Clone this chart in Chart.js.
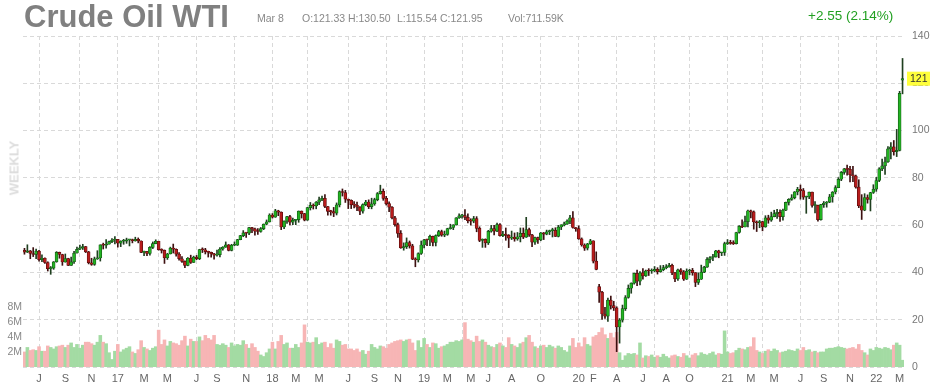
<!DOCTYPE html>
<html>
<head>
<meta charset="utf-8">
<script src="https://cdn.jsdelivr.net/npm/chart.js@4/dist/chart.umd.min.js"></script>
<style>
  html, body { margin: 0; padding: 0; background: #fff; }
  #wrap { position: relative; width: 930px; height: 387px; font-family: "Liberation Sans", Arial, sans-serif; }
  #title { position: absolute; left: 24px; top: 1px; font-size: 31px; line-height: 31px; font-weight: bold; color: #808080; white-space: nowrap; }
  .hd { position: absolute; top: 13px; font-size: 10.5px; line-height: 11px; color: #888; white-space: nowrap; }
  #chg { position: absolute; left: 808px; top: 9px; font-size: 13.5px; line-height: 13.5px; color: #22a022; white-space: nowrap; }
  #weekly { position: absolute; left: 14px; top: 168px; transform: translate(-50%, -50%) rotate(-90deg); font-size: 13px; font-weight: bold; color: #dcdcdc; white-space: nowrap; }
  canvas { position: absolute; left: 0; top: 0; }
</style>
</head>
<body>
<div id="wrap">
  <canvas id="oilChart" width="930" height="387"></canvas>
  <div id="title">Crude Oil WTI</div>
  <div class="hd" style="left:257px">Mar 8</div>
  <div class="hd" style="left:302px">O:121.33</div>
  <div class="hd" style="left:348px">H:130.50</div>
  <div class="hd" style="left:397px">L:115.54</div>
  <div class="hd" style="left:440px">C:121.95</div>
  <div class="hd" style="left:508px">Vol:711.59K</div>
  <div id="chg">+2.55 (2.14%)</div>
  <div id="weekly">WEEKLY</div>
</div>
<script>
// weekly bars, first week starts 2016-05-30
const firstWeek = '2016-05-30';

const opens = [
  49.3,48.6,49.1,48.0,47.6,49.0,45.4,46.0,44.2,41.6,41.8,44.5,48.5,47.6,44.4,45.9,43.0,44.5,48.2,49.8,50.4,50.9,48.7,44.1,43.4,45.7,46.1,51.7,51.5,51.9,53.0,
  53.7,54.0,52.4,53.2,53.2,53.8,53.9,53.4,54.0,53.3,48.5,48.8,48.0,50.6,52.2,53.2,49.6,49.3,46.2,47.8,50.3,49.8,47.7,45.8,44.7,43.0,46.0,44.2,46.5,45.8,49.7,49.6,48.8,48.5,47.9,47.3,47.5,49.9,50.7,51.7,49.3,51.5,51.5,53.9,55.6,56.7,56.6,59.0,58.4,57.4,57.3,58.5,
  60.4,61.4,64.3,63.4,66.1,65.5,59.2,61.7,63.6,61.3,62.0,62.3,65.9,64.9,62.1,67.4,68.4,68.1,69.7,70.7,71.3,67.9,65.8,65.7,65.1,68.6,74.2,73.8,71.0,70.5,68.7,68.5,67.6,65.9,68.7,69.8,67.8,69.0,70.8,73.3,74.3,71.3,69.1,67.6,63.1,60.2,56.5,50.4,50.9,52.6,51.2,45.6,45.3,
  48.0,51.6,53.8,53.7,55.3,52.7,55.6,57.3,55.8,56.1,58.5,59.0,60.1,63.1,63.9,64.0,63.3,61.9,61.7,62.8,58.6,53.5,54.0,52.5,57.4,58.5,57.5,60.2,55.6,56.2,55.7,54.5,54.9,54.2,55.1,56.5,54.9,58.1,55.9,52.8,54.7,53.8,56.7,56.2,57.2,57.7,57.8,55.2,59.2,60.1,60.4,61.7,
  63.1,59.0,58.5,54.2,51.6,50.3,52.1,53.4,44.8,34.0,31.7,22.4,21.5,28.3,26.0,25.0,16.9,19.8,24.7,29.4,33.3,35.5,39.6,36.3,39.8,38.5,40.7,40.6,40.6,41.3,40.3,41.2,42.0,42.3,43.0,39.8,37.3,41.1,40.3,37.1,40.6,40.9,39.9,35.8,37.1,40.1,42.2,45.5,46.3,46.6,49.1,48.2,
  48.5,52.2,52.4,52.3,52.2,56.9,59.5,59.2,61.5,66.1,65.6,61.4,61.0,61.5,59.3,63.1,62.1,63.6,64.9,65.4,63.6,66.3,69.6,70.9,71.6,74.1,75.2,74.6,71.8,72.1,74.0,68.3,68.4,62.3,68.7,69.3,69.7,72.0,74.0,75.9,79.4,82.3,83.8,83.6,81.3,80.8,76.1,68.2,66.3,71.7,70.9,73.8,
  75.2,78.9,83.8,85.1,86.8,92.3,93.1,91.1,91.6,121.33
];
const highs = [
  50.2,51.7,49.3,50.5,49.9,49.3,47.4,46.2,44.5,42.5,44.6,48.8,48.6,47.7,47.8,46.0,46.5,48.9,50.7,51.6,51.9,51.0,48.9,46.0,46.5,49.2,51.7,52.4,53.9,53.3,54.3,
  55.2,54.0,53.4,54.0,54.5,54.0,54.1,54.9,54.6,53.4,49.0,48.9,50.9,52.9,53.8,53.2,50.0,49.5,48.1,50.7,52.0,50.0,48.4,46.7,44.9,46.3,47.3,46.9,47.2,49.8,50.4,50.2,49.0,48.6,48.1,49.4,50.5,50.9,52.9,51.8,51.9,52.9,54.0,55.7,57.7,57.0,59.1,59.1,58.8,58.5,59.0,60.5,
  62.2,64.8,64.9,66.7,66.3,65.6,61.8,63.7,64.2,63.0,62.4,66.0,66.0,65.0,67.5,69.6,69.0,70.0,71.9,72.3,72.9,68.0,66.3,67.5,69.4,74.5,75.3,74.7,71.0,70.7,70.0,69.8,67.8,69.0,70.5,70.7,71.4,71.4,73.8,76.9,75.3,72.2,69.9,67.9,63.7,60.9,57.7,52.5,54.6,53.3,51.9,46.2,48.3,
  53.3,54.0,54.1,55.8,55.4,55.9,57.8,57.9,57.5,58.7,60.4,60.2,63.2,64.8,64.6,66.6,64.8,62.7,63.7,63.6,59.3,54.2,54.2,57.8,59.9,59.9,60.9,60.7,57.4,58.8,56.0,57.5,56.7,56.9,58.8,58.8,63.3,58.8,56.1,54.9,54.9,56.9,56.9,57.9,57.9,58.7,58.9,59.9,60.2,61.3,62.3,64.1,
  65.7,59.0,59.7,54.6,52.1,52.3,54.0,53.4,48.7,35.0,32.0,25.2,29.1,30.0,27.8,25.5,20.5,26.2,30.2,34.7,35.6,39.7,41.0,40.4,41.6,41.0,41.6,41.5,42.5,42.0,42.9,43.0,43.3,43.8,43.5,40.0,41.4,41.6,40.8,41.5,41.3,41.7,39.9,39.8,43.1,42.6,46.3,46.7,47.7,49.3,49.4,48.6,
  52.8,53.9,53.6,53.4,57.0,59.8,62.3,63.8,66.4,66.4,66.0,61.8,62.0,61.6,64.0,64.2,65.5,66.3,66.7,66.5,66.8,69.8,71.2,72.9,74.2,76.0,77.0,75.5,72.3,74.0,74.0,70.0,68.5,68.8,70.0,70.0,73.0,74.2,76.7,80.1,82.7,84.0,85.4,84.9,84.9,81.2,79.2,72.9,73.3,72.8,73.9,77.1,
  80.2,84.3,87.9,88.8,93.2,94.9,95.8,100.5,116.6,130.50
];
const lows = [
  47.7,48.4,45.8,46.7,45.8,44.8,44.6,43.8,40.6,39.2,41.3,44.3,46.0,43.0,44.3,42.9,43.0,43.8,48.1,49.6,49.7,48.4,43.6,43.0,43.0,45.5,44.8,49.9,50.3,51.9,52.6,
  52.1,50.7,50.9,51.9,52.3,51.2,52.5,53.2,52.5,48.4,47.1,47.1,47.3,50.1,52.1,49.4,48.2,43.8,45.5,47.8,48.2,46.9,45.2,44.2,42.0,42.8,43.8,44.2,45.4,45.4,48.4,47.8,46.5,46.5,45.6,46.9,46.6,49.4,50.6,49.1,49.1,51.3,51.4,53.8,55.1,54.8,56.0,56.8,55.8,56.1,57.0,58.1,
  60.1,61.3,63.0,63.3,64.0,58.1,58.5,60.7,60.1,60.2,60.2,61.2,63.0,61.8,62.0,66.4,66.8,66.9,68.7,70.3,67.4,64.2,64.2,63.6,64.3,67.7,72.3,69.6,67.0,67.0,67.3,66.1,64.4,65.1,68.2,67.0,66.9,68.4,70.3,73.1,70.5,68.5,65.7,62.6,59.6,54.8,50.2,49.4,50.1,50.3,45.4,42.4,44.4,
  47.6,50.4,51.3,51.3,51.2,51.2,55.2,55.3,55.1,55.7,58.3,58.1,60.0,62.8,63.0,62.3,60.9,60.0,61.0,57.2,53.0,50.6,50.6,51.8,57.0,55.9,57.2,55.3,55.1,53.6,50.5,53.9,53.2,53.6,52.9,54.3,54.8,55.2,50.9,51.8,52.3,53.4,53.9,55.9,56.0,55.0,55.2,55.0,58.1,59.7,60.3,60.6,
  58.7,57.4,54.0,51.1,49.3,49.5,51.8,44.0,41.1,27.3,20.1,20.5,19.3,24.5,23.9,6.5,10.1,19.0,23.9,29.1,31.2,35.0,34.4,34.7,37.1,38.3,38.7,39.6,40.3,39.3,40.1,40.7,41.5,42.2,39.0,36.1,36.6,39.2,36.6,37.0,39.0,38.8,34.0,34.9,37.0,39.9,42.1,44.0,45.0,46.5,46.2,47.1,
  47.2,51.8,51.9,51.8,52.0,56.6,58.9,59.2,59.3,63.1,58.3,57.3,58.9,57.6,59.1,60.8,61.6,63.5,62.8,61.6,62.1,66.1,68.5,70.5,71.1,72.8,71.0,70.9,65.0,71.2,67.6,65.2,61.7,62.1,67.5,67.6,69.5,69.7,73.2,75.8,78.8,81.5,81.1,78.3,78.4,75.6,67.4,62.4,66.1,69.3,66.0,73.4,
  74.3,78.4,83.0,81.5,86.5,88.0,89.6,89.0,91.4,115.54
];
const closes = [
  48.6,49.1,48.0,47.6,49.0,45.4,46.0,44.2,41.6,41.8,44.5,48.5,47.6,44.4,45.9,43.0,44.5,48.2,49.8,50.4,50.9,48.7,44.1,43.4,45.7,46.1,51.7,51.5,51.9,53.0,53.7,
  54.0,52.4,53.2,53.2,53.8,53.9,53.4,54.0,53.3,48.5,48.8,48.0,50.6,52.2,53.2,49.6,49.3,46.2,47.8,50.3,49.8,47.7,45.8,44.7,43.0,46.0,44.2,46.5,45.8,49.7,49.6,48.8,48.5,47.9,47.3,47.5,49.9,50.7,51.7,49.3,51.5,51.5,53.9,55.6,56.7,56.6,59.0,58.4,57.4,57.3,58.5,60.4,
  61.4,64.3,63.4,66.1,65.5,59.2,61.7,63.6,61.3,62.0,62.3,65.9,64.9,62.1,67.4,68.4,68.1,69.7,70.7,71.3,67.9,65.8,65.7,65.1,68.6,74.2,73.8,71.0,70.5,68.7,68.5,67.6,65.9,68.7,69.8,67.8,69.0,70.8,73.3,74.3,71.3,69.1,67.6,63.1,60.2,56.5,50.4,50.9,52.6,51.2,45.6,45.3,48.0,
  51.6,53.8,53.7,55.3,52.7,55.6,57.3,55.8,56.1,58.5,59.0,60.1,63.1,63.9,64.0,63.3,61.9,61.7,62.8,58.6,53.5,54.0,52.5,57.4,58.5,57.5,60.2,55.6,56.2,55.7,54.5,54.9,54.2,55.1,56.5,54.9,58.1,55.9,52.8,54.7,53.8,56.7,56.2,57.2,57.7,57.8,55.2,59.2,60.1,60.4,61.7,63.1,
  59.0,58.5,54.2,51.6,50.3,52.1,53.4,44.8,41.3,31.7,22.4,21.5,28.3,26.0,25.0,16.9,19.8,24.7,29.4,33.3,35.5,39.6,36.3,39.8,38.5,40.7,40.6,40.6,41.3,40.3,41.2,42.0,42.3,43.0,39.8,37.3,41.1,40.3,37.1,40.6,40.9,39.9,35.8,37.1,40.1,42.2,45.5,46.3,46.6,49.1,48.2,48.5,
  52.2,52.4,52.3,52.2,56.9,59.5,59.2,61.5,66.1,65.6,61.4,61.0,61.5,59.3,63.1,62.1,63.6,64.9,65.4,63.6,66.3,69.6,70.9,71.6,74.1,75.2,74.6,71.8,72.1,74.0,68.3,68.4,62.3,68.7,69.3,69.7,72.0,74.0,75.9,79.4,82.3,83.8,83.6,81.3,80.8,76.1,68.2,66.3,71.7,70.9,73.8,75.2,
  78.9,83.8,85.1,86.8,92.3,93.1,91.1,91.6,115.7,121.95
];
// weekly volume, millions of contracts
const volumes = [
  2.0,2.6,2.2,2.3,2.2,2.7,2.1,2.1,2.8,2.6,2.4,2.7,2.8,2.9,2.6,2.9,3.2,2.6,3.0,2.5,2.9,3.3,3.3,3.1,2.9,3.3,4.2,3.3,3.1,1.9,1.0,
  2.1,3.0,2.0,2.3,2.5,2.7,2.0,1.8,2.3,3.5,2.6,2.4,2.2,2.5,2.7,4.9,3.0,3.6,2.8,3.4,3.2,3.1,2.9,3.5,4.1,2.8,3.7,3.4,3.4,4.0,3.5,4.2,3.8,3.6,4.2,3.0,2.9,3.1,2.9,2.6,3.2,2.8,3.0,2.9,3.5,3.0,2.5,3.1,2.6,2.1,1.6,1.4,
  1.9,2.4,3.3,2.4,3.4,4.2,3.0,3.2,2.5,2.5,3.0,2.6,3.2,5.6,3.3,3.2,3.3,3.9,3.0,3.2,3.3,2.6,3.1,2.5,3.6,3.4,2.9,3.0,2.4,2.4,2.2,2.4,2.0,2.2,1.7,2.1,3.0,2.6,2.4,2.8,2.7,2.5,3.0,3.2,3.4,3.5,3.6,3.4,3.6,3.7,3.2,2.2,3.5,
  2.6,3.8,3.0,2.6,3.2,3.1,2.5,2.7,2.8,3.0,3.3,3.3,3.5,3.4,3.6,5.9,3.7,3.5,3.3,4.1,3.4,3.6,3.3,2.9,2.7,2.6,3.0,3.2,2.8,2.6,3.9,3.0,2.8,2.6,3.1,3.3,3.9,4.2,3.3,2.7,2.5,2.8,2.9,2.6,2.9,2.7,2.5,2.8,2.6,2.2,2.0,2.8,
  3.8,2.6,3.2,2.7,3.9,3.0,2.8,4.0,4.2,4.6,5.2,4.3,3.8,4.5,3.9,4.6,1.9,0.9,1.5,1.8,1.7,1.8,1.6,3.2,1.2,1.5,1.4,1.6,1.3,1.5,1.3,1.7,1.4,1.2,1.5,1.6,1.4,1.3,1.8,1.5,1.2,1.6,1.8,1.5,1.9,1.7,1.6,1.8,2.0,1.6,1.8,1.7,
  4.8,2.0,1.8,1.9,2.2,2.5,2.4,2.3,2.6,2.7,3.9,2.2,2.0,1.8,2.1,2.3,2.1,2.4,2.2,1.9,2.0,2.1,2.3,2.2,2.1,2.4,2.2,2.6,2.2,2.3,2.0,2.1,1.9,2.0,2.0,2.4,2.5,2.5,2.6,2.7,2.6,2.5,2.4,2.5,2.6,2.4,3.0,2.2,1.9,1.6,2.4,2.2,
  2.6,2.5,2.4,2.6,2.5,2.3,2.9,3.2,2.9,0.9
];

// x-axis: category index of each label and of each vertical grid line
const tickIdx = [5,14,23,32,41,49,59,66,76,85,93,101,111,120,128,137,145,153,159,167,177,190,195,203,212,220,228,241,249,257,266,274,283,292,300];
const tickText = ['J','S','N','17','M','M','J','S','N','18','M','M','J','S','N','19','M','M','J','A','O','20','F','A','J','A','O','21','M','M','J','S','N','22','M'];
const gridIdx = [5,19,32,46,59,72,85,97,111,124,137,150,164,177,190,203,216,228,241,253,266,279,292];

const FONT = '"Liberation Sans", Arial, sans-serif';
const GRID = '#d9d9d9';

const weeks = opens.map((_, i) => {
    const d = new Date(Date.parse(firstWeek) + i * 7 * 864e5);
    return d.toISOString().slice(0, 10);
});
const up = opens.map((o, i) => closes[i] >= o);

const lastPrice = {
    id: 'lastPrice',
    afterDraw(chart) {
        const { ctx, chartArea } = chart;
        const v = closes[closes.length - 1];
        const py = chart.scales.y.getPixelForValue(v);
        ctx.save();
        ctx.fillStyle = '#ffff3c';
        ctx.fillRect(chartArea.right + 3, py - 7, 23, 14);
        ctx.fillStyle = '#333';
        ctx.font = '10.5px ' + FONT;
        ctx.textBaseline = 'middle';
        ctx.fillText(String(Math.floor(v)), chartArea.right + 6, py + 0.5);
        ctx.restore();
    }
};

new Chart(document.getElementById('oilChart'), {
    type: 'bar',
    data: {
        labels: weeks,
        datasets: [
            {
                label: 'Volume',
                data: volumes,
                yAxisID: 'yVol',
                grouped: false,
                order: 3,
                backgroundColor: up.map(u => u ? '#a3dba3' : '#f7b5b5'),
                barPercentage: 1,
                categoryPercentage: 1
            },
            {
                label: 'Wick',
                data: lows.map((l, i) => [l, highs[i]]),
                yAxisID: 'y',
                grouped: false,
                order: 2,
                backgroundColor: up.map(u => u ? '#1f3f1f' : '#3d1010'),
                barThickness: 1
            },
            {
                label: 'Body',
                data: opens.map((o, i) => [o, closes[i]]),
                yAxisID: 'y',
                grouped: false,
                order: 1,
                backgroundColor: up.map(u => u ? '#22b322' : '#b81c1c'),
                borderColor: up.map(u => u ? '#145214' : '#5a0c0c'),
                borderWidth: 0.7,
                borderSkipped: false,
                minBarLength: 1,
                barThickness: 3
            }
        ]
    },
    options: {
        responsive: false,
        animation: false,
        layout: { padding: { top: 36, left: 0, right: 0, bottom: 0 } },
        plugins: { legend: { display: false }, tooltip: { enabled: false } },
        scales: {
            x: {
                offset: true,
                grid: {
                    offset: false,
                    drawTicks: false,
                    color: ctx => gridIdx.includes(ctx.index) ? GRID : 'rgba(0,0,0,0)'
                },
                border: { display: false, dash: [4, 3] },
                ticks: {
                    autoSkip: false,
                    maxRotation: 0,
                    padding: 5,
                    color: '#666',
                    font: { size: 11, family: FONT },
                    callback: (v, i) => {
                        const k = tickIdx.indexOf(i);
                        return k >= 0 ? tickText[k] : '';
                    }
                },
                afterFit: s => { s.height = 20; }
            },
            y: {
                position: 'right',
                min: 0,
                max: 140,
                grid: { color: GRID, drawTicks: false },
                border: { display: false, dash: [4, 3] },
                ticks: { stepSize: 20, padding: 8, color: '#777', font: { size: 10.5, family: FONT } },
                afterFit: s => { s.width = 26; }
            },
            yVol: {
                position: 'left',
                min: 0,
                max: 44,
                grid: { display: false, drawTicks: false },
                border: { display: false },
                ticks: {
                    stepSize: 2,
                    autoSkip: false,
                    padding: 1,
                    color: '#888',
                    font: { size: 10.5, family: FONT },
                    callback: v => (v > 0 && v <= 8) ? v + 'M' : ''
                },
                afterFit: s => { s.width = 23; }
            }
        }
    },
    plugins: [lastPrice]
});
</script>
</body>
</html>
